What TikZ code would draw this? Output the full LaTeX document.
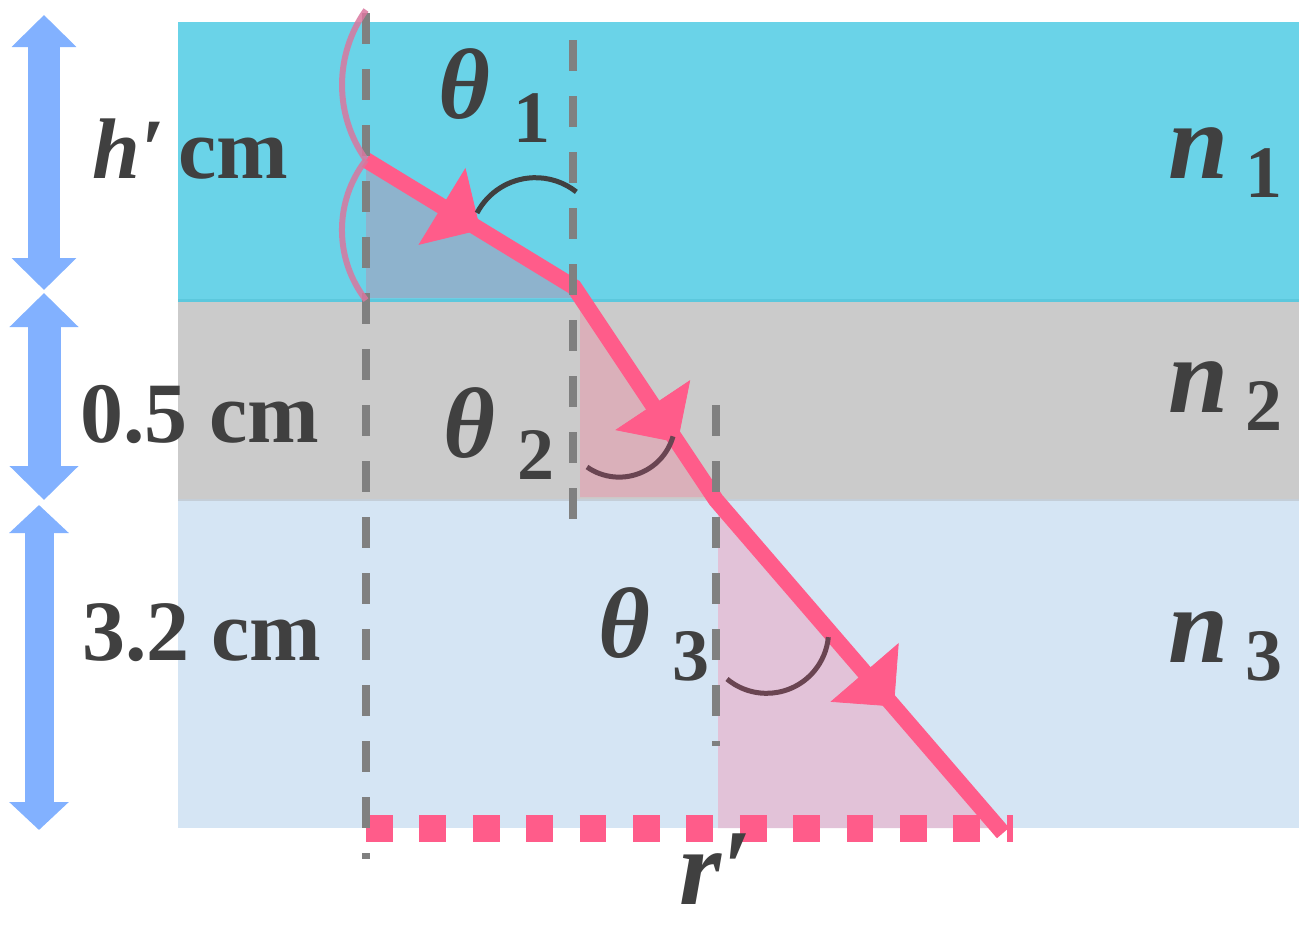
\documentclass[tikz,border=0pt]{standalone}
\usepackage{fontspec}
\setmainfont{Liberation Serif}
\usepackage{xcolor}
\definecolor{rfcyan}{HTML}{6AD3E8}
\definecolor{rfcyanedge}{HTML}{5CC8DD}
\definecolor{rfgray}{HTML}{CBCBCB}
\definecolor{rfpale}{HTML}{D5E5F4}
\definecolor{rfpaleedge}{HTML}{C4CED8}
\definecolor{rfgauge}{HTML}{82B1FF}
\definecolor{rfpink}{HTML}{FF5C8A}
\definecolor{rfrose}{HTML}{D9779F}
\definecolor{rftext}{HTML}{404040}
\definecolor{rfguide}{HTML}{808080}
\definecolor{rfplum}{HTML}{6A4552}
\definecolor{rfshadeA}{HTML}{8EB3CD}
\definecolor{rfshadeB}{HTML}{DAB0BA}
\definecolor{rfshadeC}{HTML}{E2C2D8}
\usepackage{tikz}
\usetikzlibrary{arrows.meta,decorations.markings}
\tikzset{
  lbl/.style={text=rftext, inner sep=0pt, anchor=base west,
    font=\bfseries\fontsize{43}{43}\selectfont},
  sym/.style={text=rftext, inner sep=0pt, anchor=base west,
    font=\bfseries\itshape\fontsize{#1}{#1}\selectfont},
  sym/.default=50,
  idx/.style={text=rftext, inner sep=0pt, anchor=base west,
    font=\bfseries\fontsize{37}{37}\selectfont},
  guide/.style={rfguide, line width=4pt, dash pattern=on 15.5pt off 12.5pt},
  ray/.style={rfpink, line width=8pt, line join=miter},
  raytip/.style={decorate, decoration={markings,
    mark=at position #1 with {\arrow[rfpink]{Triangle[length=22.5pt,width=45pt]}}}},
  angarc/.style={line width=2.5pt},
  rosearc/.style={rfrose, line width=3pt, opacity=0.85},
  gauge/.style n args={3}{rfgauge, line width=#1,
    arrows={Triangle[length=#2,width=#3]-Triangle[length=#2,width=#3]}},
}

\begin{document}
\begin{tikzpicture}[x=0.5pt, y=-0.5pt]
\useasboundingbox (0,0) rectangle (1299,926);
% the three layers
\fill[rfcyan] (178,22) rectangle (1299,300);
\fill[rfgray] (178,300) rectangle (1299,500);
\fill[rfpale] (178,500) rectangle (1299,828);
\draw[rfcyanedge, line width=1.5pt] (178,300) -- (1299,300);
\draw[rfpaleedge, line width=0.6pt] (178,500) -- (1299,500);
% ray corners
\coordinate (s) at (366,160);
\coordinate (k1) at (574,287);
\coordinate (k2) at (716,500);
\coordinate (e) at (1003,833);
% shaded triangles under the ray
\fill[rfshadeA] (s) -- (k1) -- (574,298) -- (366,298) -- cycle;
\fill[rfshadeB] (580,296) -- (714,497) -- (580,497) -- cycle;
\fill[rfshadeC] (718,502) -- (1003,828) -- (718,828) -- cycle;
% horizontal run r'
\draw[rfpink, line width=13.5pt, dash pattern=on 13.35pt off 13.35pt] (366,828) -- (1013,828);
% the ray
\draw[ray] (s) -- (k1) -- (k2) -- (e);
\path[raytip=0.55] (s) -- (k1);
\path[raytip=0.73] (k1) -- (k2);
\path[raytip=0.62] (k2) -- (e);
% normals
\draw[guide] (366,13) -- (366,859);
\draw[guide] (573,40) -- (573,519);
\draw[guide] (716,405) -- (716,746);
% angle marks
\draw[rosearc] (366,10) arc[start angle=215.5, end angle=144.5, radius=129];
\draw[rosearc] (s) arc[start angle=217.9, end angle=142.1, radius=114];
\draw[angarc, rftext] (477,213) arc[start angle=207.7, end angle=308.3, radius=66];
\draw[angarc, rfplum] (587,467) arc[start angle=125, end angle=15.8, radius=56];
\draw[angarc, rfplum] (727,679) arc[start angle=129.7, end angle=5.4, radius=62];
% thickness gauges
\coordinate (g1t) at (44,15);  \coordinate (g1b) at (44,290);
\coordinate (g2t) at (44,293); \coordinate (g2b) at (44,500);
\coordinate (g3t) at (39,505); \coordinate (g3b) at (39,830);
\draw[gauge={16pt}{16pt}{31.5pt}] (g1t) -- (g1b);
\draw[gauge={16.5pt}{17pt}{33.5pt}] (g2t) -- (g2b);
\draw[gauge={14.5pt}{14pt}{29pt}] (g3t) -- (g3b);
% labels
\node[lbl] (hcm) at (92,178) {\itshape h′\upshape\kern7pt cm};
\node[lbl] (half) at (80,442) {0.5 cm};
\node[lbl] (thick) at (82,660) {3.2 cm};
\node[sym] (th1) at (438,118) {θ};
\node[idx] (th1i) at (513,142) {1};
\node[sym] (th2) at (443,457) {θ};
\node[idx] (th2i) at (517,479) {2};
\node[sym] (th3) at (598,657) {θ};
\node[idx] (th3i) at (672,680) {3};
\node[sym=54] (n1) at (1168,178) {n};
\node[idx] (n1i) at (1245,197) {1};
\node[sym=54] (n2) at (1168,412) {n};
\node[idx] (n2i) at (1245,430) {2};
\node[sym=54] (n3) at (1168,662) {n};
\node[idx] (n3i) at (1245,680) {3};
\node[sym=54] (rp) at (679,904) {r′};
\end{tikzpicture}
\end{document}
